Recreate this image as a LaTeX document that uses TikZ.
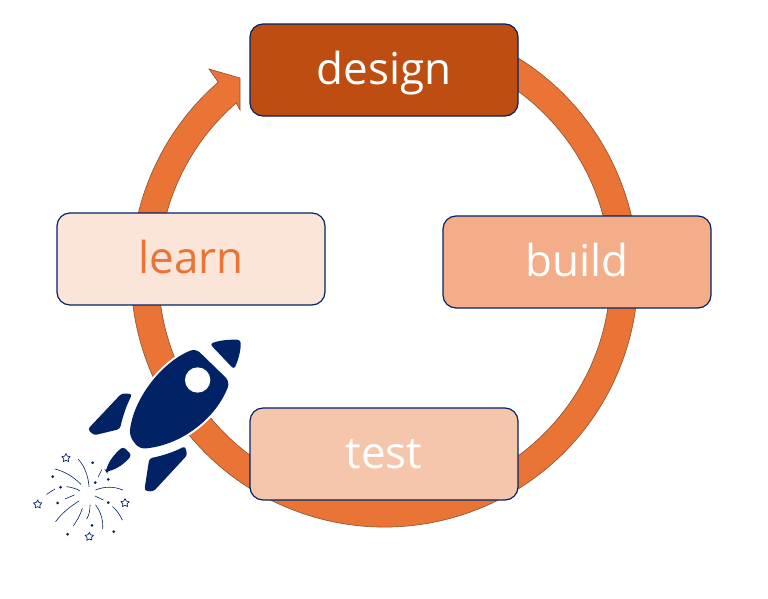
\documentclass[tikz,border=0pt]{standalone}
\usepackage{fontspec}
\setmainfont{Open Sans}
\usetikzlibrary{shapes.geometric}
\definecolor{navy}{HTML}{022266}
\definecolor{ringfill}{HTML}{E97435}
\definecolor{ringedge}{HTML}{8A5230}
\definecolor{designfill}{HTML}{BE4D12}
\definecolor{buildfill}{HTML}{F3AD88}
\definecolor{testfill}{HTML}{F6C6AC}
\definecolor{learnfill}{HTML}{FBE4D8}

\begin{document}
\begin{tikzpicture}[x=1pt, y=-1pt,
      every node/.append style={font=\fontsize{44}{44}\selectfont},
      stage/.style={draw=navy, line width=1.2pt, rounded corners=13pt, minimum width=268pt, minimum height=92pt, inner sep=0pt, text height=28pt, text depth=0pt, text=white},
      spark/.style={draw=navy, line width=0.6pt, line cap=round},
      sparkstar/.style={star, star points=5, star point ratio=1.8, draw=navy, line width=0.7pt, minimum size=8.5pt, inner sep=0pt},
      rocketpart/.style={fill=navy, rounded corners=3pt, preaction={draw=white, line width=4pt}}]
    \useasboundingbox (0,0) rectangle (768,598);
    \begin{scope}[shift={(384.5,273.5)}]
      \draw[fill=ringfill, draw=ringedge, line width=0.6pt]
        (-175.5,-204.5) -- (-144.5,-195.5) -- (-144.5,-163.5) -- (229:226)
        arc (229:-70:226) -- (-70:253.5) arc (-70:229:253.5) -- cycle;
    \end{scope}
    \node (design) [stage, fill=designfill] at (384,70) {design};
    \node (build) [stage, fill=buildfill] at (577,262) {build};
    \node (test) [stage, fill=testfill] at (384,454) {test};
    \node (learn) [stage, fill=learnfill, text=ringfill] at (191,259) {learn};
    \begin{scope}[shift={(20,330)}, scale=0.3333]
      \path[rocketpart, rounded corners=6pt] (328,318) .. controls (340,210) and (420,100) .. (527,55)
        -- (630,155) .. controls (590,260) and (490,345) .. (358,357) -- cycle;
      \fill[white] (533,150) circle (38);
      \path[rocketpart] (570,42) .. controls (600,30) and (635,28) .. (662,30)
        .. controls (663,60) and (655,90) .. (642,118) -- cycle;
      \path[rocketpart] (203,298) -- (305,190) -- (337,192) .. controls (320,225) and (308,260) .. (300,297) -- (222,316) -- cycle;
      \path[rocketpart] (388,385) .. controls (425,378) and (465,365) .. (495,348) -- (502,375) -- (400,485) -- (373,482) -- cycle;
      \path[rocketpart] (258,425) .. controls (265,395) and (285,370) .. (310,350) -- (335,375) .. controls (315,400) and (290,418) .. cycle;
      \draw[spark] (175,388) .. controls (195,410) and (205,440) .. (207,470);
      \draw[spark] (105,417) .. controls (135,425) and (160,440) .. (183,463);
      \draw[spark] (140,470) .. controls (155,472) and (170,476) .. (180,483);
      \draw[spark] (80,493) -- (105,477);
      \draw[spark] (135,507) -- (163,495);
      \draw[spark] (107,575) .. controls (125,550) and (150,530) .. (177,513);
      \draw[spark] (160,588) .. controls (172,570) and (182,552) .. (187,535);
      \draw[spark] (200,567) .. controls (208,555) and (210,540) .. (210,525);
      \draw[spark] (227,525) .. controls (242,545) and (250,570) .. (248,597);
      \draw[spark] (278,530) .. controls (290,540) and (300,555) .. (307,570);
      \draw[spark] (225,498) -- (250,510);
      \draw[spark] (227,480) .. controls (255,468) and (285,470) .. (308,480);
      \draw[spark] (235,440) -- (245,420);
      \foreach \x/\y in {218/398, 98/440, 122/472, 113/519, 226/458, 265/448, 265/518, 216/586, 143/613, 281/605}
        \fill[navy] (\x,\y) circle (4.5);
      \foreach \x/\y [count=\i] in {138/384, 53/523, 315/519, 208/620}
        \node (spark\i) [sparkstar] at (\x,\y) {};
    \end{scope}
\end{tikzpicture}
\end{document}
